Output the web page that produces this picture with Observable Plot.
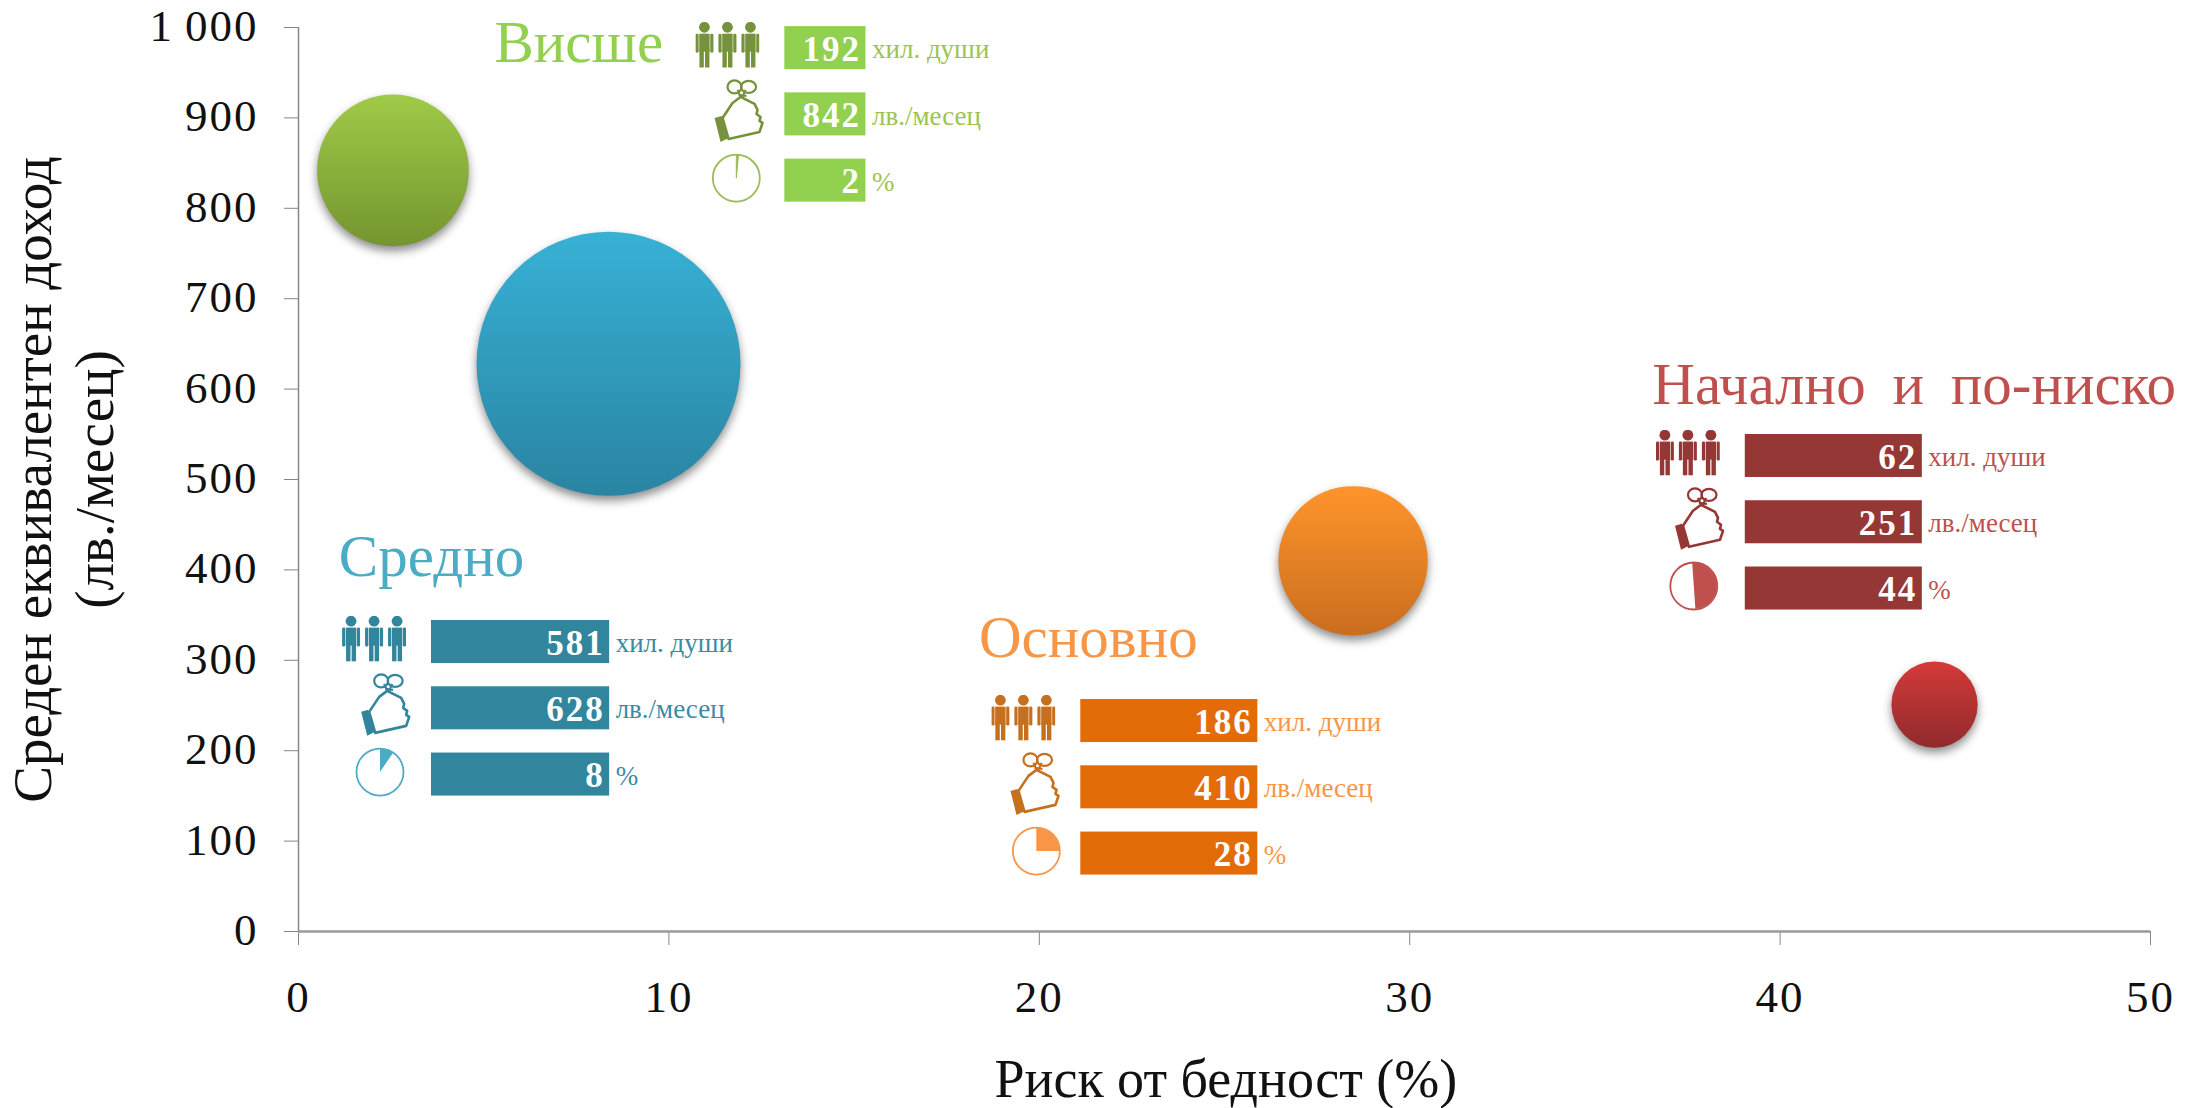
<!DOCTYPE html>
<html lang="bg">
<head>
<meta charset="utf-8">
<title>Риск от бедност и доход</title>
<style>
  html, body { margin: 0; padding: 0; background: #fff; }
  svg { display: block; overflow: visible; }
  [aria-label="y-axis tick label"], [aria-label="x-axis tick label"] { letter-spacing: 2px; }
</style>
<script src="https://cdn.jsdelivr.net/npm/d3@7"></script>
<script src="https://cdn.jsdelivr.net/npm/@observablehq/plot@0.6"></script>
</head>
<body>
<div id="chart"></div>
<script>
// ---- data ----
const levels = ["Висше", "Средно", "Основно", "Начално и по-ниско"];
const population = [192, 581, 186, 62];   // хил. души
const income = [842, 628, 410, 251];      // лв./месец
const riskLabel = [2, 8, 28, 44];         // % as printed
const riskExact = [2.55, 8.37, 28.47, 44.17]; // % as plotted
const pieShare = [1.5, 9.5, 25, 50];      // % of the pie icon that is filled
const pieStart = [0, 0, 0, -4];           // degrees the filled slice starts at
const units = ["хил. души", "лв./месец", "%"];
const xTicks = [0, 10, 20, 30, 40, 50];
const yTicks = [0, 100, 200, 300, 400, 500, 600, 700, 800, 900, 1000];

// ---- styling ----
const FONT = "Liberation Serif";
const barColor = ["#92D050", "#31859C", "#E36C09", "#953735"];
const textColor = ["#92D050", "#4BACC6", "#F79646", "#C0504D"];
const unitColor = ["#9CC44E", "#3A8BA5", "#F79646", "#C0504D"];
const iconColor = ["#76923C", "#31859C", "#C5701F", "#953735"];
const pieColor = ["#9BBB59", "#4BACC6", "#F79646", "#C0504D"];
const gradTop = ["#A0CA48", "#37B1D5", "#FF942B", "#D43A39"];
const gradBottom = ["#74952F", "#2A84A3", "#C96E1E", "#902A2C"];

// ---- annotation layout, in the chart's data units ----
const barLeft = [13.13, 3.59, 21.12, 39.06];
const barRight = [15.32, 8.40, 25.90, 43.84];
const barTop = [1001, 344, 256.6, 549.8];
const titleX = [5.29, 1.09, 18.37, 36.55];
const titleBase = [962, 393, 303, 583];
const pieShift = [-1.31, -1.39, -1.2, -1.39];
const rowStep = 73.3, barH = 47.6;

// ---- icons ----
const uri = s => "data:image/svg+xml," + encodeURIComponent(s);
function people(c) {
  const one = ox => `<g fill="${c}" transform="translate(${ox},0)"><circle cx="9" cy="5.6" r="5.4"/>
    <rect x="0" y="12" width="3.2" height="19" rx="1.4"/><rect x="14.8" y="12" width="3.2" height="19" rx="1.4"/>
    <rect x="3.8" y="12" width="10.4" height="18"/><rect x="4" y="28" width="4.4" height="18"/><rect x="9.6" y="28" width="4.4" height="18"/></g>`;
  return uri(`<svg xmlns="http://www.w3.org/2000/svg" viewBox="0 0 64 46">${one(0)}${one(23)}${one(46)}</svg>`);
}
function bag(c) {
  return uri(`<svg xmlns="http://www.w3.org/2000/svg" viewBox="0 0 52 64">
    <g fill="none" stroke="${c}" stroke-width="2.2" stroke-linejoin="round">
      <ellipse cx="22" cy="8" rx="7" ry="6.5"/><ellipse cx="36" cy="8" rx="7.5" ry="6"/>
      <path d="M25 11 L28 18 M33 11 L30 18 M26 16 L34 17" />
      <path d="M28 18 L42 25 L45 31 L44 35 L48 38 L47 42 L50 44 L47 53 L16 60 L10 39 L20 24 Z" stroke-width="2.6"/>
    </g>
    <path d="M2 39 L9 37 L16 59 L8 63 Z" fill="${c}"/></svg>`);
}
function pie(c, share, start) {
  const a0 = start * Math.PI / 180;
  const arc = d3.arc()({innerRadius: 0, outerRadius: 23, startAngle: a0, endAngle: a0 + 2 * Math.PI * share / 100});
  return uri(`<svg xmlns="http://www.w3.org/2000/svg" viewBox="0 0 50 50">
    <circle cx="25" cy="25" r="23.5" fill="#fff" stroke="${c}" stroke-width="1.8"/>
    <path transform="translate(25,25)" d="${arc}" fill="${c}" ${share < 4 ? `stroke="${c}" stroke-width="1"` : ""}/></svg>`);
}

// ---- tables built from the arrays ----
const idx = levels.map((_, i) => i);
const bubbles = idx.map(i => ({i, x: riskExact[i], y: income[i], pop: population[i]}));
const rows = idx.flatMap(i => [population[i], income[i], riskLabel[i]].map((v, k) => ({
  i, k, v, unit: units[k],
  x1: barLeft[i], x2: barRight[i],
  y1: barTop[i] - k * rowStep, y2: barTop[i] - k * rowStep - barH
})));
const icons = idx.map(i => ({i}));
const thin = d => d3.format(",")(d).replace(",", "\u2009");

const defs = () => {
  const d = d3.create("svg:defs");
  idx.forEach(i => {
    const g = d.append("svg:linearGradient").attr("id", `bub${i}`)
      .attr("x1", 0).attr("y1", 0).attr("x2", 0).attr("y2", 1);
    g.append("svg:stop").attr("offset", "0%").attr("stop-color", gradTop[i]);
    g.append("svg:stop").attr("offset", "100%").attr("stop-color", gradBottom[i]);
  });
  return d.node();
};

const chart = Plot.plot({
  width: 2187, height: 1108,
  marginLeft: 298, marginRight: 37, marginTop: 27, marginBottom: 177,
  style: {fontFamily: FONT, background: "#fff", overflow: "visible"},
  x: {domain: [0, 50]},
  y: {domain: [0, 1000]},
  r: {type: "sqrt", domain: [0, 581], range: [0, 132]},
  marks: [
    defs,
    Plot.axisX({ticks: xTicks, label: null, tickSize: 14, tickPadding: 35, fontSize: 45, stroke: "#868686", fill: "#111", tickFormat: d3.format("d")}),
    Plot.axisY({ticks: yTicks, label: null, tickSize: 14, text: null, stroke: "#868686"}),
    Plot.axisY({ticks: yTicks, label: null, tickSize: 0, tickPadding: 40, fontSize: 45, fill: "#111", tickFormat: thin, dy: -1}),
    Plot.ruleX([0], {stroke: "#868686", strokeWidth: 1.5}),
    Plot.ruleY([0], {stroke: "#9a9a9a", strokeWidth: 2.5}),
    Plot.text(["Риск от бедност (%)"], {x: 18.79, y: -183, text: d => d, fontSize: 54, fill: "#111", dy: -17, textAnchor: "start"}),
    Plot.text(["Среден еквивалентен доход\n(лв./месец)"], {x: -6.37, y: 500, text: d => d, rotate: -90, fontSize: 55, lineHeight: 1.126, fill: "#111"}),
    Plot.dot(bubbles, {x: "x", y: "y", r: "pop", fill: {value: d => `url(#bub${d.i})`, scale: null}, imageFilter: "drop-shadow(0 5px 5px rgba(0,0,0,.45))"}),
    Plot.text(idx, {x: i => titleX[i], y: i => titleBase[i], text: i => levels[i], fill: {value: i => textColor[i], scale: null}, textAnchor: "start", fontSize: 59, dy: -19}),
    Plot.rect(rows, {x1: "x1", x2: "x2", y1: "y1", y2: "y2", fill: {value: d => barColor[d.i], scale: null}}),
    Plot.text(rows, {x: "x2", y: "y2", text: "v", fill: "#fff", fontWeight: "bold", fontSize: 35, textAnchor: "end", dx: -5, dy: -20}),
    Plot.text(rows, {x: "x2", y: "y2", text: "unit", fill: {value: d => unitColor[d.i], scale: null}, fontSize: 27, textAnchor: "start", dx: 6, dy: -20}),
    Plot.image(icons, {x: d => barLeft[d.i] - 1.55, y: d => barTop[d.i] - 20, width: 64, height: 46, src: d => people(iconColor[d.i])}),
    Plot.image(icons, {x: d => barLeft[d.i] - 1.25, y: d => barTop[d.i] - rowStep - 20, width: 52, height: 64, src: d => bag(iconColor[d.i])}),
    Plot.image(icons, {x: d => barLeft[d.i] + pieShift[d.i], y: d => barTop[d.i] - 2 * rowStep - 21, width: 50, height: 50, src: d => pie(pieColor[d.i], pieShare[d.i], pieStart[d.i])})
  ]
});
const root = d3.select(chart);
root.selectAll('g[font-weight="bold"] text').style("letter-spacing", "2px");
root.selectAll("text").filter(function () { return this.textContent === levels[3]; }).style("word-spacing", "12px");
document.getElementById("chart").append(chart);
</script>
</body>
</html>
